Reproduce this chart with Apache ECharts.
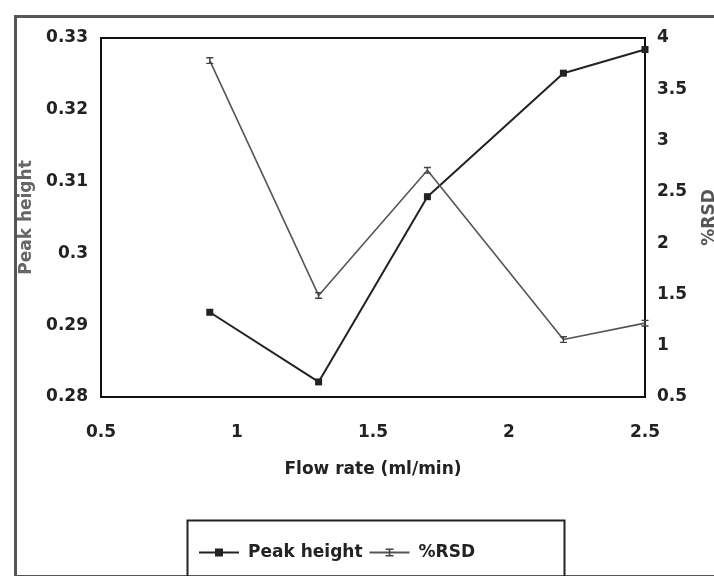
<!DOCTYPE html>
<html>
<head>
<meta charset="utf-8">
<script src="https://cdn.jsdelivr.net/npm/echarts@6/dist/echarts.min.js"></script>
<style>
  html, body { margin: 0; padding: 0; background: #fff; }
  #chart { width: 714px; height: 576px; }
</style>
</head>
<body>
<div id="chart"></div>
<script>
// flow rate (ml/min) on x
const flowRate = [0.9, 1.3, 1.7, 2.2, 2.5];
// peak height, left axis
const peakHeight = [0.2918, 0.2821, 0.3079, 0.3251, 0.3284];
// %RSD, right axis
const rsd = [3.78, 1.49, 2.71, 1.06, 1.22];

const FONT = 'DejaVu Sans';

const chart = echarts.init(document.getElementById('chart'));

const labelStyle = {
  fontFamily: FONT,
  fontWeight: 'bold',
  fontSize: 17,
  color: '#222'
};

const option = {
  backgroundColor: '#ffffff',
  animation: false,
  grid: {
    left: 101,
    right: 69,
    top: 38,
    bottom: 179,
    outerBoundsMode: 'none',
    containLabel: false,
    show: true,
    borderColor: '#111',
    borderWidth: 2
  },
  xAxis: {
    type: 'value',
    min: 0.5,
    max: 2.5,
    interval: 0.5,
    name: 'Flow rate (ml/min)',
    nameLocation: 'middle',
    nameGap: 64,
    nameTextStyle: { fontFamily: FONT, fontWeight: 'bold', fontSize: 17, color: '#222' },
    axisLine: { show: false },
    axisTick: { show: false },
    splitLine: { show: false },
    axisLabel: Object.assign({ margin: 27 }, labelStyle)
  },
  yAxis: [
    {
      type: 'value',
      min: 0.28,
      max: 0.33,
      interval: 0.01,
      name: 'Peak height',
      nameLocation: 'middle',
      nameRotate: 90,
      nameGap: 65,
      nameTextStyle: { fontFamily: FONT, fontWeight: 'bold', fontSize: 17, color: '#666' },
      axisLine: { show: false },
      axisTick: { show: false },
      splitLine: { show: false },
      axisLabel: Object.assign({
        margin: 13,
        formatter: v => String(+v.toFixed(2))
      }, labelStyle)
    },
    {
      type: 'value',
      min: 0.5,
      max: 4,
      interval: 0.5,
      name: '%RSD',
      nameLocation: 'middle',
      nameRotate: 90,
      nameGap: 56,
      nameTextStyle: { fontFamily: FONT, fontWeight: 'bold', fontSize: 17, color: '#555' },
      axisLine: { show: false },
      axisTick: { show: false },
      splitLine: { show: false },
      axisLabel: Object.assign({ margin: 12 }, labelStyle)
    }
  ],
  legend: {
    left: 193,
    top: 539,
    itemWidth: 40,
    itemHeight: 10,
    itemGap: 6,
    textStyle: {
      fontFamily: FONT,
      fontWeight: 'bold',
      fontSize: 17,
      color: '#222',
      padding: [0, 0, 0, 4]
    },
    data: ['Peak height', '%RSD']
  },
  series: [
    {
      name: 'Peak height',
      type: 'line',
      yAxisIndex: 0,
      data: flowRate.map((x, i) => [x, peakHeight[i]]),
      symbol: 'rect',
      symbolSize: 7,
      lineStyle: { color: '#222', width: 2 },
      itemStyle: { color: '#222' }
    },
    {
      name: '%RSD',
      type: 'line',
      yAxisIndex: 1,
      data: flowRate.map((x, i) => [x, rsd[i]]),
      symbol: 'path://M0,0H10V2H6V8H10V10H0V8H4V2H0Z',
      symbolSize: [7, 7],
      lineStyle: { color: '#555', width: 1.6 },
      itemStyle: { color: '#444' }
    }
  ],
  graphic: [
    {
      type: 'rect',
      left: 13,
      top: 14,
      shape: { width: 720, height: 560 },
      style: { fill: 'none', stroke: '#555', lineWidth: 3 },
      silent: true
    },
    {
      type: 'rect',
      left: 185,
      top: 518,
      shape: { width: 377, height: 70 },
      style: { fill: 'none', stroke: '#222', lineWidth: 2 },
      silent: true
    }
  ]
};

chart.setOption(option);
</script>
</body>
</html>
